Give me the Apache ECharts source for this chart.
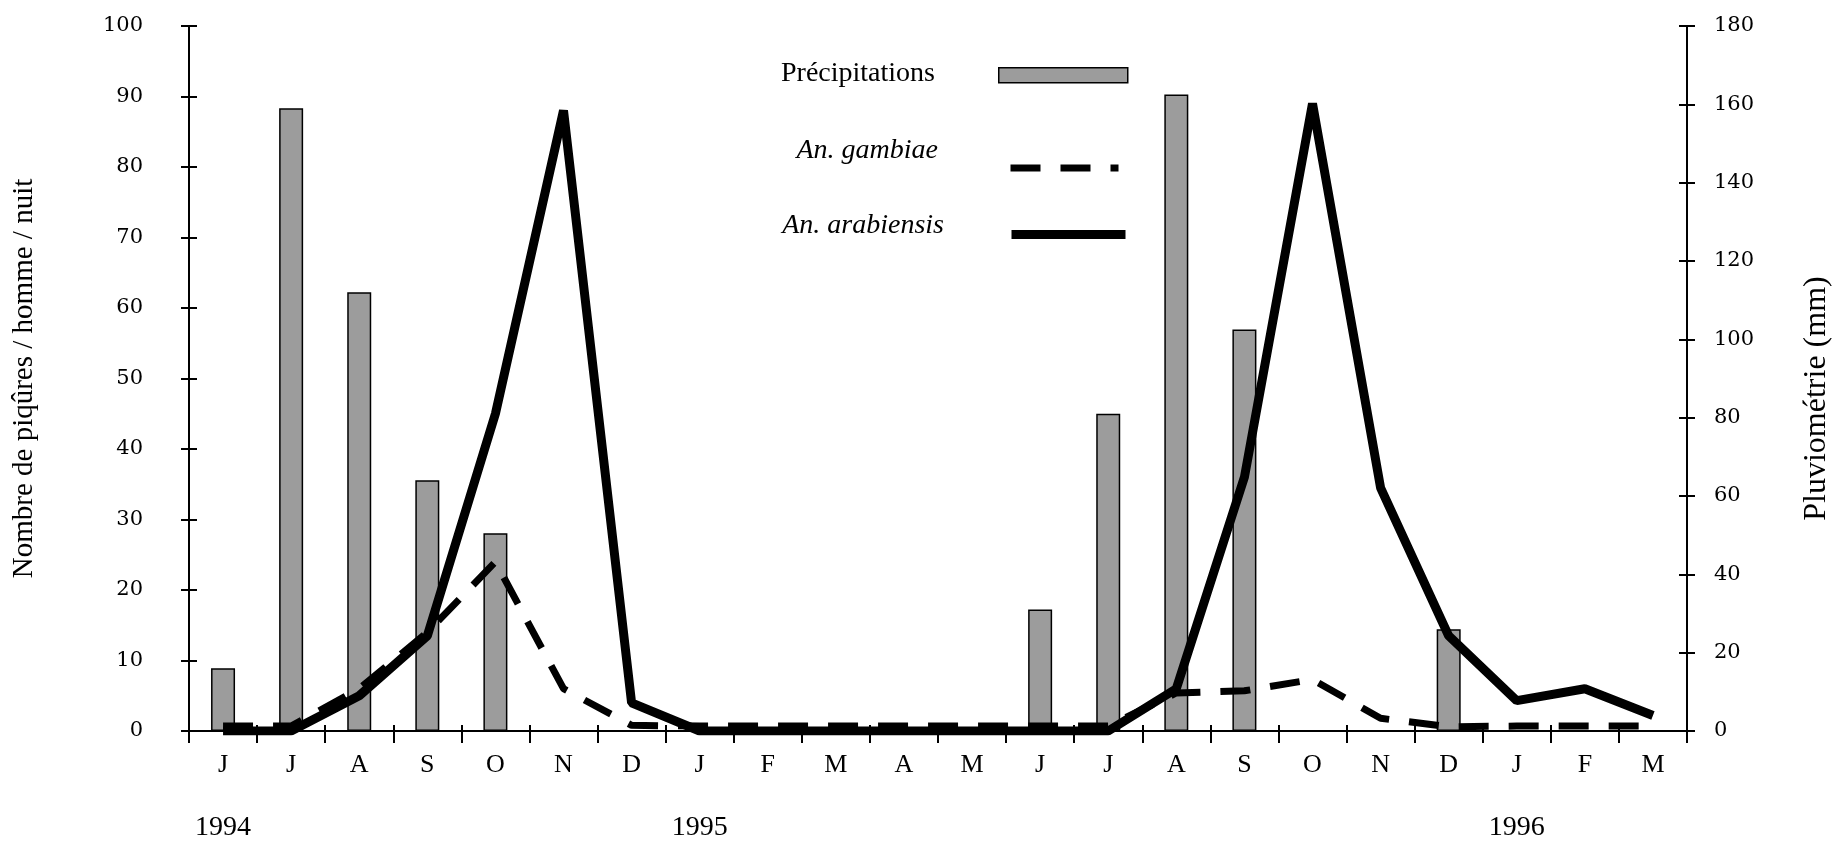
<!DOCTYPE html>
<html><head><meta charset="utf-8">
<script src="https://cdn.jsdelivr.net/npm/echarts@6/dist/echarts.min.js"></script>
<style>html,body{margin:0;padding:0;background:#fff}#c{width:1841px;height:845px}</style>
</head><body><div id="c"></div>
<script>
// ---- data ----
const months = ['J','J','A','S','O','N','D','J','F','M','A','M','J','J','A','S','O','N','D','J','F','M'];
const yearLabels = ['1994','','','','','','','1995','','','','','','','','','','','','1996','',''];
const rainfall = [16,159,112,64,50.5,0,0,0,0,0,0,0,31,81,162.5,102.5,0,0,26,0,0,0];
const gambiae = [0.7,0.7,6,14,24,6,0.8,0.7,0.7,0.7,0.7,0.7,0.7,0.7,5.4,5.7,7.3,1.8,0.6,0.7,0.7,0.7];
const arabiensis = [0,0,5,13.5,45,88,4,0,0,0,0,0,0,0,6,36,89,34.5,13.5,4.3,6,2.2];
const seriesNames = ['Précipitations','An. gambiae','An. arabiensis'];
const leftTitle = 'Nombre de piqûres / homme / nuit';
const rightTitle = 'Pluviométrie (mm)';

// ---- chart ----
const serif = 'Liberation Serif';
const numFont = 'DejaVu Serif';
const black = '#000';
const chart = echarts.init(document.getElementById('c'), null, {renderer:'canvas'});

// text-only legend entry (icon hidden)
function textLegend(name, right, top, italic){
  return {
    data:[name], right:right, top:top, align:'right',
    itemWidth:0, itemHeight:0, padding:0, selectedMode:false,
    itemStyle:{opacity:0}, lineStyle:{opacity:0},
    textStyle:{fontFamily:serif, fontSize:28, color:black, fontStyle: italic?'italic':'normal'}
  };
}
// icon-only legend entry
function iconLegend(name, left, top, w, h, extra){
  return Object.assign({
    data:[name], left:left, top:top, align:'left',
    itemWidth:w, itemHeight:h, padding:0, selectedMode:false,
    formatter:function(){return '';},
    textStyle:{fontSize:1}
  }, extra);
}

chart.setOption({
  animation:false,
  backgroundColor:'#fff',
  grid:{left:189, right:145, top:26, bottom:114},
  legend:[
    textLegend(seriesNames[0], 900, 60, false),
    textLegend(seriesNames[1], 897, 137, true),
    textLegend(seriesNames[2], 891, 212, true),
    iconLegend(seriesNames[0], 998, 67, 129, 15,
      {icon:'rect', itemStyle:{color:'#9c9c9c', borderColor:black, borderWidth:1.5}}),
    iconLegend(seriesNames[1], 1007, 164, 108, 8,
      {itemStyle:{opacity:0}, lineStyle:{color:black, width:7, type:[30,20]}}),
    iconLegend(seriesNames[2], 1007, 230, 114, 9,
      {itemStyle:{opacity:0}, lineStyle:{color:black, width:9, type:'solid'}})
  ],
  xAxis:[
    {type:'category', data:months, position:'bottom', boundaryGap:true,
     axisLine:{show:true, onZero:false, lineStyle:{color:black, width:2}},
     axisTick:{show:true, length:12, lineStyle:{color:black, width:2}},
     axisLabel:{interval:0, margin:21, fontFamily:serif, fontSize:26, color:black}},
    {type:'category', data:yearLabels, position:'bottom', boundaryGap:true,
     axisLine:{show:false}, axisTick:{show:false},
     axisLabel:{interval:0, margin:83, fontFamily:serif, fontSize:28, color:black}},
    {type:'category', data:months, position:'bottom', boundaryGap:true,
     axisLine:{show:false}, axisLabel:{show:false},
     axisTick:{show:true, inside:true, length:6, lineStyle:{color:black, width:2}}}
  ],
  yAxis:[
    {type:'value', position:'left', min:0, max:100, interval:10,
     name:leftTitle, nameLocation:'middle', nameGap:150, nameRotate:90,
     nameTextStyle:{fontFamily:serif, fontSize:29, color:black},
     axisLine:{show:true, lineStyle:{color:black, width:2}},
     axisTick:{show:true, length:8, lineStyle:{color:black, width:2}},
     axisLabel:{margin:46, fontFamily:numFont, fontSize:21, color:black},
     splitLine:{show:false}},
    {type:'value', position:'right', min:0, max:180, interval:20,
     name:rightTitle, nameLocation:'middle', nameGap:114, nameRotate:90,
     nameTextStyle:{fontFamily:serif, fontSize:32, color:black, padding:[0,40,0,0]},
     axisLine:{show:true, lineStyle:{color:black, width:2}},
     axisTick:{show:true, length:8, lineStyle:{color:black, width:2}},
     axisLabel:{margin:27, fontFamily:numFont, fontSize:21, color:black},
     splitLine:{show:false}},
    {type:'value', position:'left', min:0, max:100, interval:10,
     axisLine:{show:false}, axisLabel:{show:false}, splitLine:{show:false},
     axisTick:{show:true, inside:true, length:8, lineStyle:{color:black, width:2}}},
    {type:'value', position:'right', min:0, max:180, interval:20,
     axisLine:{show:false}, axisLabel:{show:false}, splitLine:{show:false},
     axisTick:{show:true, inside:true, length:8, lineStyle:{color:black, width:2}}}
  ],
  series:[
    {name:seriesNames[0], type:'bar', xAxisIndex:0, yAxisIndex:1, data:rainfall, barWidth:24, z:1,
     itemStyle:{color:'#9c9c9c', borderColor:black, borderWidth:1.5}},
    {name:seriesNames[2], type:'line', xAxisIndex:0, yAxisIndex:0, data:arabiensis, symbol:'none', z:3,
     lineStyle:{color:black, width:9}, itemStyle:{color:black}},
    {name:seriesNames[1], type:'line', xAxisIndex:0, yAxisIndex:0, data:gambiae, symbol:'none', z:4,
     lineStyle:{color:black, width:7, type:[30,20]}, itemStyle:{color:black}}
  ]
});
</script></body></html>
